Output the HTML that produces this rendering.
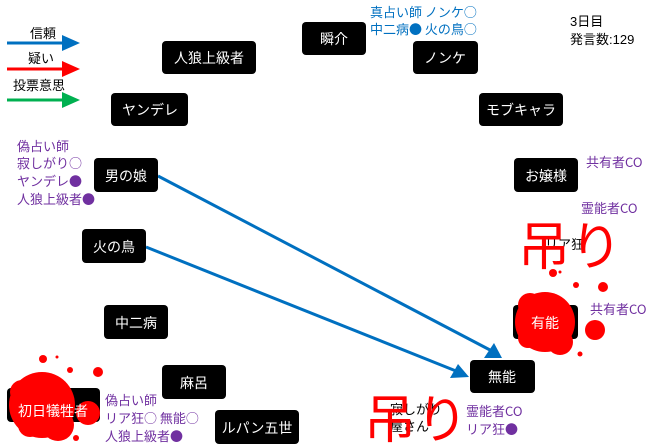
<!DOCTYPE html>
<html><head><meta charset="utf-8"><style>
html,body{margin:0;padding:0;background:#fff;}
svg{display:block;font-family:"Liberation Sans","Noto Sans CJK JP",sans-serif;}
.b{fill:#000;}
.w{fill:#fff;font-size:14px;text-anchor:middle;}
.p{fill:#7030a0;font-size:13px;font-family:"Noto Sans CJK JP",sans-serif;}
.k{fill:#000;font-size:13px;}
.r{fill:#ff0000;}
</style></head><body>
<svg width="660" height="447" viewBox="0 0 660 447">
<!-- legend -->
<text x="30" y="38" class="k" font-size="14">信頼</text>
<line x1="7" y1="43" x2="62" y2="43" stroke="#0070c0" stroke-width="3"/>
<path d="M62,35 L80,43 L62,51z" fill="#0070c0"/>
<text x="28" y="63" class="k" font-size="14">疑い</text>
<line x1="7" y1="69" x2="62" y2="69" stroke="#ff0000" stroke-width="3"/>
<path d="M62,61 L80,69 L62,77z" fill="#ff0000"/>
<text x="13" y="90" class="k" font-size="14">投票意思</text>
<line x1="7" y1="100" x2="62" y2="100" stroke="#00b050" stroke-width="3"/>
<path d="M62,92 L80,100 L62,108z" fill="#00b050"/>

<!-- arrows -->
<line x1="158" y1="176" x2="490" y2="350" stroke="#0070c0" stroke-width="3"/>
<path d="M484,358 L502,358 L494,343z" fill="#0070c0"/>
<line x1="146" y1="247" x2="456" y2="371" stroke="#0070c0" stroke-width="3"/>
<path d="M450,378 L469,377 L458,364z" fill="#0070c0"/>

<!-- boxes -->
<rect x="162" y="41" width="94" height="33" rx="4" class="b"/><text x="209" y="63" class="w">人狼上級者</text>
<rect x="111" y="93" width="77" height="33" rx="4" class="b"/><text x="150" y="115" class="w">ヤンデレ</text>
<rect x="94" y="158" width="64" height="34" rx="4" class="b"/><text x="126" y="181" class="w">男の娘</text>
<rect x="302" y="22" width="64" height="33" rx="4" class="b"/><text x="334" y="44" class="w">瞬介</text>
<rect x="413" y="41" width="65" height="33" rx="4" class="b"/><text x="445" y="63" class="w">ノンケ</text>
<rect x="479" y="93" width="84" height="33" rx="4" class="b"/><text x="521" y="115" class="w">モブキャラ</text>
<rect x="514" y="158" width="64" height="34" rx="4" class="b"/><text x="546" y="181" class="w">お嬢様</text>
<rect x="82" y="229" width="64" height="34" rx="4" class="b"/><text x="114" y="252" class="w">火の鳥</text>
<rect x="104" y="305" width="64" height="34" rx="4" class="b"/><text x="136" y="328" class="w">中二病</text>
<rect x="162" y="365" width="64" height="34" rx="4" class="b"/><text x="194" y="388" class="w">麻呂</text>
<rect x="7" y="388" width="93" height="34" rx="4" class="b"/>
<rect x="215" y="410" width="84" height="34" rx="4" class="b"/><text x="257" y="433" class="w">ルパン五世</text>
<rect x="513" y="305" width="65" height="34" rx="4" class="b"/>
<rect x="470" y="360" width="65" height="33" rx="4" class="b"/><text x="502" y="382" class="w">無能</text>

<!-- blood splats -->
<g class="r">
<circle cx="42" cy="405" r="33"/><circle cx="22" cy="392" r="12"/><circle cx="58" cy="425" r="16"/><circle cx="30" cy="425" r="12"/>
<circle cx="88" cy="413" r="12"/><circle cx="43" cy="359" r="4"/><circle cx="70" cy="370" r="3"/><circle cx="98" cy="372" r="5"/>
<circle cx="76" cy="438" r="3"/><circle cx="57" cy="357" r="1.5"/>
<circle cx="545" cy="322" r="30"/><circle cx="530" cy="305" r="12"/><circle cx="560" cy="342" r="13"/><circle cx="528" cy="338" r="10"/>
<circle cx="595" cy="330" r="10"/><circle cx="553" cy="273" r="4"/><circle cx="576" cy="285" r="3"/><circle cx="603" cy="287" r="5"/>
<circle cx="580" cy="354" r="2.5"/><circle cx="560" cy="272" r="1.5"/>
</g>
<text x="53" y="416" class="w">初日犠牲者</text>
<text x="545" y="328" class="w">有能</text>

<!-- annotations -->
<text x="17" y="151" class="p">偽占い師</text>
<text x="17" y="168" class="p">寂しがり○</text>
<text x="17" y="186" class="p">ヤンデレ●</text>
<text x="17" y="204" class="p">人狼上級者●</text>
<text x="370" y="17" font-size="13" fill="#0070c0" font-family="Noto Sans CJK JP,sans-serif">真占い師 ノンケ○</text>
<text x="370" y="34" font-size="13" fill="#0070c0" font-family="Noto Sans CJK JP,sans-serif">中二病● 火の鳥○</text>
<text x="570" y="26" class="k">3日目</text>
<text x="570" y="44" class="k">発言数:129</text>
<text x="586" y="167" class="p">共有者CO</text>
<text x="581" y="213" class="p">霊能者CO</text>
<text x="590" y="314" class="p">共有者CO</text>
<text x="105" y="405" class="p">偽占い師</text>
<text x="105" y="423" class="p">リア狂○ 無能○</text>
<text x="105" y="441" class="p">人狼上級者●</text>
<text x="466" y="416" class="p">霊能者CO</text>
<text x="466" y="434" class="p">リア狂●</text>
<text x="545" y="249" class="k">リア狂</text>
<text x="390" y="414" class="k">寂しがり</text>
<text x="390" y="431" class="k">屋さん</text>

<text x="518" y="265" font-size="52" fill="#ff0000" font-family="Noto Sans CJK JP,sans-serif" transform="translate(0,0)">吊り</text>
<text x="364" y="438" font-size="52" fill="#ff0000" font-family="Noto Sans CJK JP,sans-serif">吊り</text>
</svg>
</body></html>
